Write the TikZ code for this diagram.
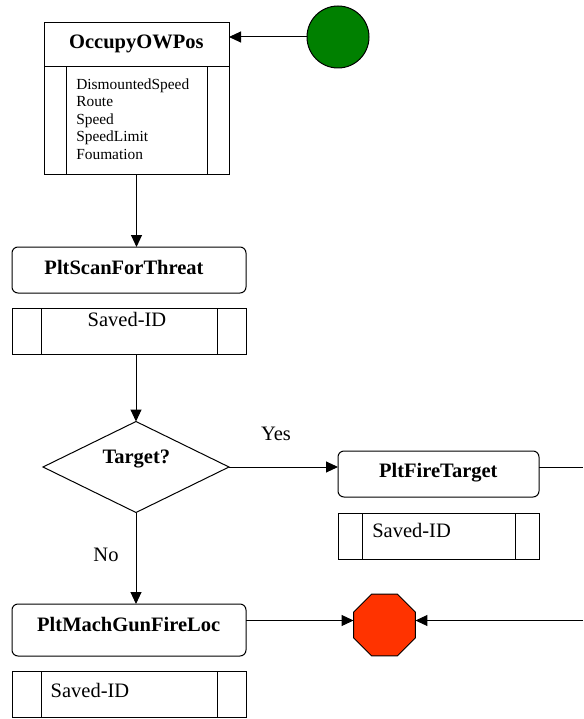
\documentclass[tikz,border=0pt]{standalone}
\usepackage{fontspec}
\setmainfont{Liberation Serif}[Ligatures=TeX]
\newfontfamily\tnr{Liberation Serif}
\usetikzlibrary{shapes.geometric,arrows.meta,calc}

\begin{document}
\begin{tikzpicture}[x=1pt,y=-1pt,
  every node/.style={inner sep=0pt,outer sep=0pt},
  box/.style={draw,line width=1pt,rectangle},
  rbox/.style={box,rounded corners=6pt},
  divider/.style={line width=0.9pt},
  conn/.style={line width=1pt},
  arr/.style={conn,-{Triangle[length=12pt,width=11pt]}},
  big/.style={font=\tnr\fontsize{20.5}{24}\selectfont},
  bigb/.style={font=\tnr\fontsize{20.5}{24}\selectfont\bfseries},
  small/.style={font=\tnr\fontsize{15.4}{17.5}\selectfont}
]
\useasboundingbox (0,0) rectangle (583,719);

% start marker
\node[circle,draw,line width=1pt,fill={rgb,255:red,0;green,128;blue,0},minimum size=62pt] (start) at (338,37) {};

% OccupyOWPos task with its parameter list
\node[box,minimum width=185pt,minimum height=44pt] (occ) at (136.5,45) {};
\node[box,minimum width=185pt,minimum height=108pt] (occb) at (136.5,121) {};
\draw[divider] ([xshift=22pt]occb.north west) -- ([xshift=22pt]occb.south west);
\draw[divider] ([xshift=-22pt]occb.north east) -- ([xshift=-22pt]occb.south east);
\node[bigb,anchor=base] (occt) at (136.3,48.3) {OccupyOWPos};
\node[small,anchor=base west] (p1) at (76.3,89.3) {DismountedSpeed};
\node[small,anchor=base west] (p2) at (76.3,106.8) {Route};
\node[small,anchor=base west] (p3) at (76.3,124.3) {Speed};
\node[small,anchor=base west] (p4) at (76.3,141.8) {SpeedLimit};
\node[small,anchor=base west] (p5) at (76.3,159.3) {Foumation};

% PltScanForThreat
\node[rbox,minimum width=234pt,minimum height=46pt] (scan) at (129,270) {};
\node[bigb,anchor=base] (scant) at (124,274.3) {PltScanForThreat};
\node[box,minimum width=234pt,minimum height=46pt] (scanid) at (129,331) {};
\draw[divider] ([xshift=29pt]scanid.north west) -- ([xshift=29pt]scanid.south west);
\draw[divider] ([xshift=-29pt]scanid.north east) -- ([xshift=-29pt]scanid.south east);
\node[big,anchor=base] (scanidt) at (127,326.7) {Saved-ID};

% decision
\node[diamond,draw,line width=1pt,minimum width=186pt,minimum height=91pt] (dec) at (136,467) {};
\node[bigb,anchor=base] (dect) at (136.3,463) {Target?};

% PltFireTarget
\node[rbox,minimum width=201pt,minimum height=46pt] (fire) at (438.5,474) {};
\node[bigb,anchor=base] (firet) at (438.3,477.7) {PltFireTarget};
\node[box,minimum width=201pt,minimum height=46pt] (fireid) at (438.5,536) {};
\draw[divider] ([xshift=24pt]fireid.north west) -- ([xshift=24pt]fireid.south west);
\draw[divider] ([xshift=-24pt]fireid.north east) -- ([xshift=-24pt]fireid.south east);
\node[big,anchor=base west] (fireidt) at (372.3,537.7) {Saved-ID};

% PltMachGunFireLoc
\node[rbox,minimum width=234pt,minimum height=52pt] (mach) at (129,630) {};
\node[bigb,anchor=base] (macht) at (128.7,631.7) {PltMachGunFireLoc};
\node[box,minimum width=234pt,minimum height=46pt] (machid) at (129,694) {};
\draw[divider] ([xshift=29pt]machid.north west) -- ([xshift=29pt]machid.south west);
\draw[divider] ([xshift=-29pt]machid.north east) -- ([xshift=-29pt]machid.south east);
\node[big,anchor=base west] (machidt) at (50.7,697.7) {Saved-ID};

% end marker
\node[regular polygon,regular polygon sides=8,draw,line width=1pt,
      fill={rgb,255:red,255;green,51;blue,0},minimum size=67pt] (stop) at (384.5,625) {};

% loop-back line ends at the right edge
\coordinate (fireout) at (583,467);
\coordinate (backin) at (583,620.5);

% connectors
\draw[arr] (start.west) -- (start.west -| occ.east);
\draw[arr] (occb.south) -- (occb.south |- scan.north);
\draw[arr] (dec.north |- scanid.south) -- (dec.north);
\draw[arr] (dec.east) -- (dec.east -| fire.west);
\draw[arr] (dec.south) -- (dec.south |- mach.north);
\draw[conn] (fireout -| fire.east) -- (fireout);
\draw[arr] (backin -| mach.east) -- (backin -| stop.west);
\draw[arr] (backin) -- (backin -| stop.east);

% branch labels
\node[big,anchor=base] (yes) at (276,440) {Yes};
\node[big,anchor=base] (no) at (106,561.7) {No};
\end{tikzpicture}
\end{document}
